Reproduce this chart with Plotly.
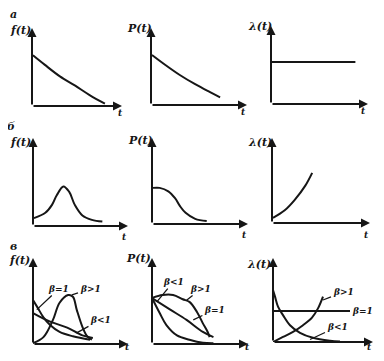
import plotly.graph_objects as go

# page body adds an 8px margin, so the figure is sized to fill the window exactly
OFF = 8
W, H = 384 - 2 * OFF, 361 - 2 * OFF
INK = "#161616"

# ---------------- data ----------------
# Row а : exponential law
a_f_t = [0.1, 1.4, 3.1, 4.8, 6.4, 8.1]
a_f_v = [6.5, 5.3, 3.8, 2.6, 1.4, 0.3]
a_p_t = [0.1, 1.5, 3.0, 4.6, 6.1, 7.2]
a_p_v = [6.5, 5.2, 3.9, 2.7, 1.7, 1.0]
a_l_t = [0.0, 8.7]
a_l_v = [5.4, 5.4]

# Row б : normal law
b_f_t = [0.1, 1.3, 2.0, 2.5, 3.2, 3.8, 4.4, 5.2, 6.2, 7.3]
b_f_v = [0.9, 1.5, 2.4, 3.5, 4.5, 3.9, 2.4, 1.2, 0.7, 0.5]
b_p_t = [0.1, 0.8, 1.7, 2.4, 2.9, 3.5, 4.5, 5.7]
b_p_v = [4.2, 4.2, 3.8, 3.0, 2.1, 1.3, 0.6, 0.35]
b_l_t = [0.1, 1.3, 2.3, 3.4, 4.1]
b_l_v = [0.6, 1.5, 2.7, 4.4, 5.9]

# Row в : Weibull law
c_f_lt_t = [0.0, 0.5, 1.1, 1.8, 2.8, 4.2, 6.0]
c_f_lt_v = [5.1, 4.2, 3.1, 2.2, 1.4, 0.9, 0.5]
c_f_eq_t = [0.0, 1.8, 3.6, 5.2, 6.3]
c_f_eq_v = [3.6, 2.6, 1.9, 1.0, 0.7]
c_f_gt_t = [0.0, 1.1, 2.1, 2.8, 3.7, 4.2, 4.6, 5.2, 5.7, 6.2]
c_f_gt_v = [0.1, 0.8, 2.8, 4.8, 5.7, 5.5, 4.0, 2.0, 0.9, 0.5]

c_p_gt_t = [0.0, 1.1, 2.2, 3.2, 3.9, 4.7, 5.3, 5.8, 6.0]
c_p_gt_v = [5.35, 5.7, 5.7, 5.2, 4.9, 3.7, 2.4, 1.4, 0.8]
c_p_eq_t = [0.0, 1.9, 3.6, 5.3, 6.4]
c_p_eq_v = [5.35, 4.0, 2.8, 1.4, 0.8]
c_p_lt_t = [0.0, 0.8, 1.5, 2.6, 3.9, 5.3, 6.4]
c_p_lt_v = [5.35, 3.6, 2.2, 1.0, 0.5, 0.15, 0.1]

c_l_eq_t = [0.0, 7.7]
c_l_eq_v = [3.7, 3.7]
c_l_lt_t = [0.0, 0.2, 0.5, 1.0, 1.7, 2.7, 4.0, 5.7, 6.7]
c_l_lt_v = [6.2, 5.4, 4.2, 3.2, 2.0, 1.1, 0.5, 0.15, 0.05]
c_l_gt_t = [0.0, 1.0, 2.0, 3.0, 3.9, 4.5, 5.0]
c_l_gt_v = [0.0, 0.6, 1.2, 2.0, 2.9, 4.0, 5.4]

row_letters = ["а", "б", "в"]
y_titles = ["f(t)", "P(t)", "λ(t)"]
t_title = "t"
beta_lt, beta_eq, beta_gt = "β<1", "β=1", "β>1"

# ---------------- layout geometry (window pixels) ----------------
panels = [
    # ox, xe, oy, yt, ylabel(px,py), t label(px,py)
    dict(ox=32, xe=122, oy=106, yt=28, yl=(21, 30), tl=(121, 113)),
    dict(ox=151, xe=247, oy=105, yt=28, yl=(139, 28), tl=(243, 112)),
    dict(ox=271, xe=368, oy=104, yt=26, yl=(260, 26), tl=(363, 111)),
    dict(ox=33, xe=128, oy=226, yt=138, yl=(20, 142), tl=(124, 237)),
    dict(ox=152, xe=248, oy=224, yt=138, yl=(140, 140), tl=(244, 235)),
    dict(ox=272, xe=370, oy=223, yt=138, yl=(260, 142), tl=(366, 235)),
    dict(ox=33, xe=128, oy=344, yt=258, yl=(19, 261), tl=(127, 347)),
    dict(ox=152, xe=248, oy=344, yt=258, yl=(138, 259), tl=(247, 347)),
    dict(ox=273, xe=373, oy=342, yt=258, yl=(259, 264), tl=(369, 347)),
]
letter_pos = [(13, 15), (11, 126), (13, 246)]

curves = {
    1: [(a_f_t, a_f_v)],
    2: [(a_p_t, a_p_v)],
    3: [(a_l_t, a_l_v)],
    4: [(b_f_t, b_f_v)],
    5: [(b_p_t, b_p_v)],
    6: [(b_l_t, b_l_v)],
    7: [(c_f_lt_t, c_f_lt_v), (c_f_eq_t, c_f_eq_v), (c_f_gt_t, c_f_gt_v)],
    8: [(c_p_gt_t, c_p_gt_v), (c_p_eq_t, c_p_eq_v), (c_p_lt_t, c_p_lt_v)],
    9: [(c_l_eq_t, c_l_eq_v), (c_l_lt_t, c_l_lt_v), (c_l_gt_t, c_l_gt_v)],
}

# leader labels: panel, text, label (t,v), pointed curve point (t,v)
leaders = [
    (7, beta_eq, (2.7, 6.4), (0.4, 4.0)),
    (7, beta_gt, (6.0, 6.4), (4.1, 5.7)),
    (7, beta_lt, (7.1, 2.8), (4.6, 1.3)),
    (8, beta_lt, (2.2, 7.2), (0.5, 4.9)),
    (8, beta_gt, (5.1, 6.4), (3.6, 5.1)),
    (8, beta_eq, (6.5, 4.0), (4.3, 2.8)),
    (9, beta_gt, (7.0, 5.9), (5.0, 5.0)),
    (9, beta_lt, (6.4, 1.8), (3.7, 0.3)),
]
plain_labels = [(9, beta_eq, (8.9, 3.7))]

fig = go.Figure()
layout = dict(width=W, height=H, margin=dict(l=0, r=0, t=0, b=0),
              paper_bgcolor="white", plot_bgcolor="rgba(0,0,0,0)",
              showlegend=False, annotations=[])

FONT = dict(family="DejaVu Serif", color=INK, size=11, style="italic", weight="bold")
TFONT = dict(family="DejaVu Serif", color=INK, size=9, style="italic", weight="bold")
SMALL = dict(family="DejaVu Serif", color=INK, size=9, style="italic", weight="bold")


def fx(p):
    return (p - OFF) / W


def fy(p):
    return 1 - (p - OFF) / H


for i, pn in enumerate(panels, start=1):
    xa = "xaxis" if i == 1 else f"xaxis{i}"
    ya = "yaxis" if i == 1 else f"yaxis{i}"
    xr = "x" if i == 1 else f"x{i}"
    yr = "y" if i == 1 else f"y{i}"
    layout[xa] = dict(domain=[fx(pn["ox"]), fx(pn["xe"])], range=[0, 10],
                      visible=False, anchor=yr, fixedrange=True)
    layout[ya] = dict(domain=[fy(pn["oy"]), fy(pn["yt"])], range=[0, 10],
                      visible=False, anchor=xr, fixedrange=True)
    for t, v in curves[i]:
        fig.add_trace(go.Scatter(x=t, y=v, xaxis=xr, yaxis=yr, mode="lines",
                                 line=dict(color=INK, width=2, shape="spline"),
                                 hoverinfo="skip"))
    # axes with arrows
    for (x, y) in [(10, 0), (0, 10)]:
        layout["annotations"].append(dict(
            x=x, y=y, ax=0, ay=0, xref=xr, yref=yr, axref=xr, ayref=yr,
            text="", showarrow=True, arrowhead=2, arrowsize=0.9,
            arrowwidth=2, arrowcolor=INK, standoff=0))
    # y label and t label
    layout["annotations"].append(dict(x=fx(pn["yl"][0]), y=fy(pn["yl"][1]),
                                      xref="paper", yref="paper",
                                      text=y_titles[(i - 1) % 3], showarrow=False,
                                      font=FONT, xanchor="center", yanchor="middle"))
    layout["annotations"].append(dict(x=fx(pn["tl"][0]), y=fy(pn["tl"][1]),
                                      xref="paper", yref="paper",
                                      text=t_title, showarrow=False,
                                      font=TFONT, xanchor="center", yanchor="middle"))

for k, pos in enumerate(letter_pos):
    layout["annotations"].append(dict(x=fx(pos[0]), y=fy(pos[1]),
                                      xref="paper", yref="paper",
                                      text=row_letters[k], showarrow=False,
                                      font=FONT, xanchor="center", yanchor="middle"))

for (i, txt, lab, pt) in leaders:
    xr = f"x{i}"
    yr = f"y{i}"
    layout["annotations"].append(dict(
        x=pt[0], y=pt[1], ax=lab[0], ay=lab[1], xref=xr, yref=yr, axref=xr, ayref=yr,
        text=txt, showarrow=True, arrowhead=0, arrowwidth=1.3, arrowcolor=INK,
        font=SMALL, standoff=0))

for (i, txt, lab) in plain_labels:
    layout["annotations"].append(dict(
        x=lab[0], y=lab[1], xref=f"x{i}", yref=f"y{i}", text=txt, showarrow=False,
        font=SMALL, xanchor="center", yanchor="middle"))

fig.update_layout(**layout)
fig.write_html("out.html")
